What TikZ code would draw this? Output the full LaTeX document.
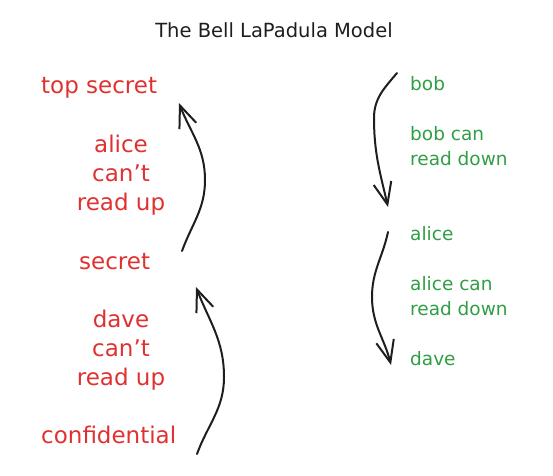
\documentclass[tikz,border=0pt]{standalone}
\usepackage{fontspec}
\setmainfont{DejaVu Sans}
\usetikzlibrary{arrows.meta}
\definecolor{exred}{HTML}{E03131}
\definecolor{exgreen}{HTML}{2F9E44}
\definecolor{exink}{HTML}{1E1E1E}
\begin{document}
\begin{tikzpicture}[x=1pt,y=1pt,
  redlbl/.style={text=exred, font=\fontsize{23}{29}\selectfont, inner sep=0pt, align=center},
  greenlbl/.style={text=exgreen, font=\fontsize{18.5}{25}\selectfont, inner sep=0pt, align=left},
  titlelbl/.style={text=exink, font=\fontsize{19.5}{22}\selectfont, inner sep=0pt},
  flow/.style={draw=exink, line width=2pt, line cap=round, line join=round,
    -{Straight Barb[length=22pt,width=18pt]}}]
\useasboundingbox (0,0) rectangle (553,-475);
% title
\node[titlelbl, anchor=base] (title) at (274,-37) {The Bell LaPadula Model};
% left column (red)
\node[redlbl, anchor=base west] (topsecret) at (41,-93) {top secret};
\node[redlbl, anchor=base] (aliceup) at (121,-210) {alice\\can't\\read up};
\node[redlbl, anchor=base west] (secret) at (79,-269) {secret};
\node[redlbl, anchor=base] (daveup) at (121,-385) {dave\\can't\\read up};
\node[redlbl, anchor=base west] (confidential) at (41,-443) {confidential};
% right column (green)
\node[greenlbl, anchor=base west] (bob) at (410,-90) {bob};
\node[greenlbl, anchor=base west] (bobdown) at (410,-165) {bob can\\read down};
\node[greenlbl, anchor=base west] (alice) at (410,-240) {alice};
\node[greenlbl, anchor=base west] (alicedown) at (410,-315) {alice can\\read down};
\node[greenlbl, anchor=base west] (dave) at (410,-365) {dave};
% arrow anchor points
\coordinate (a1s) at (182,-251);
\coordinate (a1m) at (205,-180);
\coordinate (a1t) at (179,-103);
\coordinate (a2s) at (197,-454);
\coordinate (a2m) at (224,-377);
\coordinate (a2t) at (196,-287);
\coordinate (a3s) at (397,-73);
\coordinate (a3m) at (374,-118);
\coordinate (a3t) at (388,-207);
\coordinate (a4s) at (388,-232);
\coordinate (a4m) at (372,-297);
\coordinate (a4t) at (391,-365);
% arrows
\draw[flow] (a1s) to[out=70,in=-90] (a1m) to[out=90,in=-69] (a1t);
\draw[flow] (a2s) to[out=70,in=-90] (a2m) to[out=90,in=-69] (a2t);
\draw[flow] (a3s) to[out=230,in=90] (a3m) to[out=-90,in=103] (a3t);
\draw[flow] (a4s) to[out=258,in=90] (a4m) to[out=-90,in=104] (a4t);
\end{tikzpicture}
\end{document}
